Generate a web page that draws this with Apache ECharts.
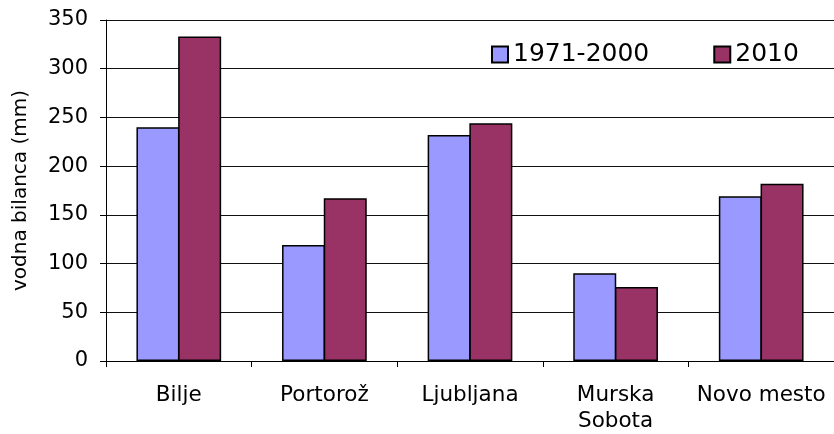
<!DOCTYPE html>
<html>
<head>
<meta charset="utf-8">
<script src="https://cdn.jsdelivr.net/npm/echarts@6/dist/echarts.min.js"></script>
<style>
  html, body { margin: 0; padding: 0; background: #fff; }
  #main { width: 834px; height: 434px; }
</style>
</head>
<body>
<div id="main"></div>
<script>
// podatki
var postaje = ['Bilje', 'Portorož', 'Ljubljana', 'Murska\nSobota', 'Novo mesto'];
var obdobje = [240, 119, 232, 90, 169];   // 1971-2000
var leto2010 = [333, 167, 244, 76, 182];  // 2010
var yTicks = [0, 50, 100, 150, 200, 250, 300, 350];

var font = 'DejaVu Sans';
var myChart = echarts.init(document.getElementById('main'));

var option = {
    animation: false,
    textStyle: { fontFamily: font },
    legend: {
        left: 486,
        top: 37,
        itemWidth: 16,
        itemHeight: 16,
        itemGap: 64,
        icon: 'rect',
        textStyle: { color: '#000', fontSize: 25, fontFamily: font },
        data: ['1971-2000', '2010']
    },
    grid: {
        left: 106,
        right: -7,
        top: 20,
        bottom: 71
    },
    xAxis: {
        type: 'category',
        data: postaje,
        axisLine: { lineStyle: { color: '#000', width: 1 } },
        axisTick: { show: true, length: 6, lineStyle: { color: '#000' } },
        axisLabel: {
            color: '#000',
            fontSize: 21.5,
            fontFamily: font,
            margin: 21,
            lineHeight: 26,
            interval: 0
        }
    },
    yAxis: {
        type: 'value',
        min: 0,
        max: 350,
        interval: 50,
        name: 'vodna bilanca (mm)',
        nameLocation: 'middle',
        nameGap: 75,
        nameTextStyle: { color: '#000', fontSize: 20, fontFamily: font },
        axisLine: { show: true, lineStyle: { color: '#000', width: 1 } },
        axisTick: { show: true, length: 6, lineStyle: { color: '#000' } },
        axisLabel: {
            color: '#000',
            fontSize: 21,
            fontFamily: font,
            margin: 18,
            formatter: function (v) { return yTicks.indexOf(v) >= 0 ? String(v) : ''; }
        },
        splitLine: { lineStyle: { color: '#111', width: 1 } }
    },
    series: [
        {
            name: '1971-2000',
            type: 'bar',
            barWidth: 43,
            barGap: '-3%',
            itemStyle: { color: '#9999ff', borderColor: '#000', borderWidth: 1.5 },
            data: obdobje
        },
        {
            name: '2010',
            type: 'bar',
            barWidth: 43,
            barGap: '-3%',
            itemStyle: { color: '#993366', borderColor: '#000', borderWidth: 1.5 },
            data: leto2010
        }
    ]
};

myChart.setOption(option);
</script>
</body>
</html>
